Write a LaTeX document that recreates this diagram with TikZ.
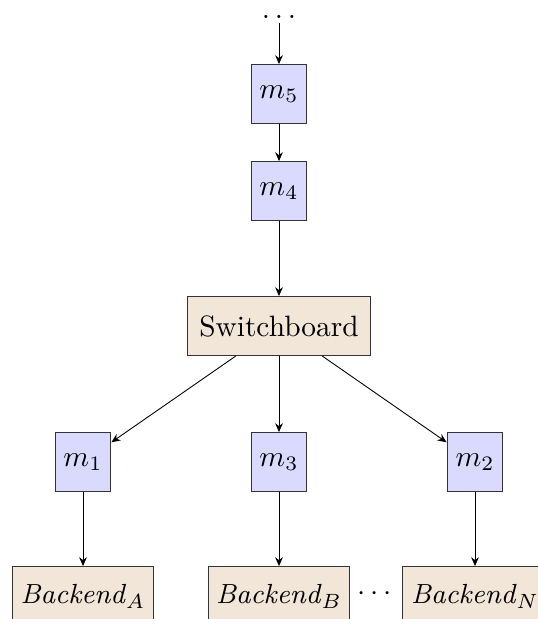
\documentclass[tikz,border=0pt]{standalone}
\usetikzlibrary{arrows.meta}
\definecolor{mfill}{RGB}{218,218,255}
\definecolor{bfill}{RGB}{242,230,217}
\tikzset{
  mbox/.style={draw=black!80, fill=mfill, line width=0.35pt, minimum width=19pt, minimum height=20pt, inner sep=1pt},
  bbox/.style={draw=black!80, fill=bfill, line width=0.35pt, minimum width=48pt, minimum height=20pt, inner sep=2pt},
  btext/.style={font=\fontsize{9.4}{11}\selectfont},
  conn/.style={-{Stealth[length=3pt,width=2.6pt]}, draw=black, line width=0.3pt},
}
\begin{document}
\begin{tikzpicture}[x=0.34pt,y=-0.34pt]
\path[use as bounding box, clip] (0,0) rectangle (538,619);
\node[anchor=base, inner sep=1pt] (top) at (279,19) {$\ldots$};
\node[mbox] (m5) at (279,94) {$m_5$};
\node[mbox] (m4) at (279,191) {$m_4$};
\node[bbox, minimum width=62pt] (sw) at (279,326) {Switchboard};
\node[mbox] (m1) at (83,462) {$m_1$};
\node[mbox] (m3) at (279,462) {$m_3$};
\node[mbox] (m2) at (475,462) {$m_2$};
\node[bbox, btext] (ba) at (83,596) {\textit{Backend}$_A$};
\node[bbox, btext] (bb) at (279,596) {\textit{Backend}$_B$};
\node[bbox, btext, minimum width=49.6pt] (bn) at (475,596) {\textit{Backend}$_N$};
\node (dots) at (375,594) {$\cdots$};
\draw[conn] (top) -- (m5);
\draw[conn] (m5) -- (m4);
\draw[conn] (m4) -- (sw);
\draw[conn] (sw) -- (m1);
\draw[conn] (sw) -- (m3);
\draw[conn] (sw) -- (m2);
\draw[conn] (m1) -- (ba);
\draw[conn] (m3) -- (bb);
\draw[conn] (m2) -- (bn);
\end{tikzpicture}
\end{document}
